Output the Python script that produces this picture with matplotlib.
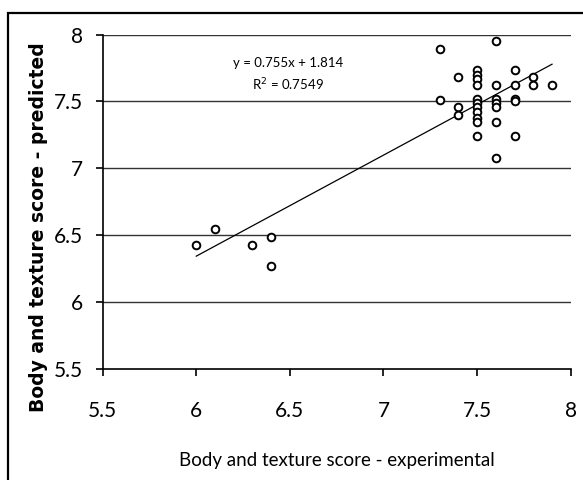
import matplotlib
matplotlib.use("Agg")
import matplotlib.pyplot as plt
from matplotlib.patches import Rectangle
import numpy as np

# Valores (experimental x predito)
exp_low = [6.0, 6.1, 6.3, 6.4, 6.4]
pred_low = [6.43, 6.545, 6.43, 6.487, 6.27]

exp_high = [7.3, 7.3,
            7.4, 7.4, 7.4,
            7.5, 7.5, 7.5, 7.5, 7.5, 7.5, 7.5, 7.5, 7.5, 7.5, 7.5,
            7.6, 7.6, 7.6, 7.6, 7.6, 7.6, 7.6,
            7.7, 7.7, 7.7, 7.7, 7.7,
            7.8, 7.8,
            7.9]
pred_high = [7.89, 7.51,
             7.68, 7.46, 7.40,
             7.735, 7.70, 7.665, 7.625, 7.515, 7.49, 7.455, 7.42, 7.38, 7.35, 7.24,
             7.955, 7.625, 7.515, 7.49, 7.455, 7.35, 7.08,
             7.735, 7.625, 7.515, 7.50, 7.24,
             7.68, 7.625,
             7.625]

experimental = exp_low + exp_high
predicted = pred_low + pred_high

slope, intercept, r2 = 0.755, 1.814, 0.7549

xticks = [5.5, 6, 6.5, 7, 7.5, 8]
yticks = [5.5, 6, 6.5, 7, 7.5, 8]

narrow = ['Lato', 'DejaVu Sans']

fig = plt.figure(figsize=(5.83, 4.80), dpi=100)
ax = fig.add_axes([0.176, 0.231, 0.803, 0.697])

# moldura externa do gráfico
fig.patches.append(Rectangle((8 / 583, -0.1), 1.2, 1 - 13.5 / 480 + 0.1,
                             transform=fig.transFigure, fill=False,
                             edgecolor='black', linewidth=1.6))

ax.set_xlim(5.5, 8)
ax.set_ylim(5.5, 8)
ax.set_xticks(xticks)
ax.set_yticks(yticks)
ax.set_xticklabels([f"{t:g}" for t in xticks], fontsize=15, family=narrow)
ax.set_yticklabels([f"{t:g}" for t in yticks], fontsize=15, family=narrow)

for y in yticks[1:]:
    ax.axhline(y, color='#333333', linewidth=1.0, zorder=1)

ax.spines['top'].set_visible(False)
ax.spines['right'].set_visible(False)
ax.spines['left'].set_linewidth(1.2)
ax.spines['bottom'].set_linewidth(1.2)
ax.tick_params(direction='out', length=5, width=1.2)
ax.tick_params(axis='x', pad=18)
ax.tick_params(axis='y', pad=9)

# linha de tendência
xs = np.array([min(experimental), max(experimental)])
ax.plot(xs, slope * xs + intercept, color='black', linewidth=0.9, zorder=2)

ax.plot(experimental, predicted, linestyle='none', marker='o', markersize=5.5,
        markerfacecolor='white', markeredgecolor='black', markeredgewidth=1.4, zorder=3)

ax.text(6.49, 7.79, f"y = {slope}x + {intercept}", ha='center', va='center',
        fontsize=9.5, family=narrow)
ax.text(6.49, 7.625, f"R$^2$ = {r2}", ha='center', va='center',
        fontsize=9.5, family=narrow)

ax.set_xlabel("Body and texture score - experimental", fontsize=13.5, family=narrow, labelpad=22)
ax.set_ylabel("Body and texture score - predicted", fontsize=13.5, fontweight='bold')
ax.yaxis.set_label_coords(-0.117, 0.425)

fig.savefig("out.png", dpi=100)
